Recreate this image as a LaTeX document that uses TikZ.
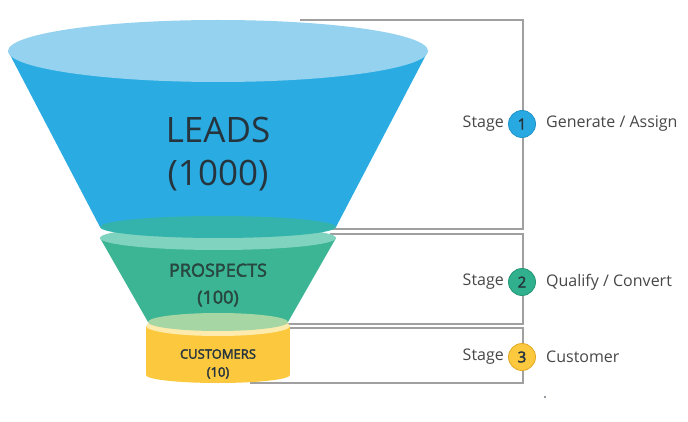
\documentclass[tikz,border=0pt]{standalone}
\usepackage{fontspec}
\setmainfont{Open Sans}
\newfontfamily\semib[FakeBold=2.5]{Open Sans}
\definecolor{blueA}{HTML}{2AACE3}
\definecolor{blueTop}{HTML}{94D2EF}
\definecolor{tealA}{HTML}{34B2AC}
\definecolor{mintA}{HTML}{80D3BE}
\definecolor{greenA}{HTML}{3BB593}
\definecolor{greenBot}{HTML}{A6D6A4}
\definecolor{paleY}{HTML}{FDEBAE}
\definecolor{yelA}{HTML}{FBC83E}
\definecolor{txtA}{HTML}{26343E}
\definecolor{txtG}{HTML}{284740}
\definecolor{lineA}{HTML}{A0A0A0}
\definecolor{labelA}{HTML}{474747}
\definecolor{c1}{HTML}{29A9E1}
\definecolor{c1b}{HTML}{1E92C6}
\definecolor{c2}{HTML}{31B08E}
\definecolor{c2b}{HTML}{259574}
\definecolor{c3}{HTML}{FBC83E}
\definecolor{c3b}{HTML}{E2A826}
\begin{document}
\begin{tikzpicture}[x=1pt,y=-1pt,
  bracket/.style={draw=lineA,line width=1.3pt},
  stagetxt/.style={anchor=east,text=labelA,font=\fontsize{16}{19}\selectfont,inner sep=0pt},
  desctxt/.style={anchor=west,text=labelA,font=\fontsize{16}{19}\selectfont,inner sep=0pt},
  badge/.style={circle,minimum size=27pt,inner sep=0pt,line width=0.8pt,text=txtA,font=\semib\fontsize{15}{18}\selectfont}]
\useasboundingbox (0,0) rectangle (688,422);
\fill[white] (0,0) rectangle (688,422);
% bracket lines
\coordinate (b1s) at (300,20);
\coordinate (b1a) at (523,20);
\coordinate (b1b) at (523,229);
\coordinate (b1e) at (330,229);
\coordinate (b2s) at (330,234);
\coordinate (b2a) at (523,234);
\coordinate (b2b) at (523,324);
\coordinate (b2e) at (280,324);
\coordinate (b3s) at (280,328);
\coordinate (b3a) at (523,328);
\coordinate (b3b) at (523,383);
\coordinate (b3e) at (250,383);
\draw[bracket] (b1s) -- (b1a) -- (b1b) -- (b1e);
\draw[bracket] (b2s) -- (b2a) -- (b2b) -- (b2e);
\draw[bracket] (b3s) -- (b3a) -- (b3b) -- (b3e);
% yellow cylinder
\fill[yelA] (146,326) rectangle (290,375);
\fill[yelA] (218,375) ellipse[x radius=72,y radius=8];
\fill[paleY] (218,326) ellipse[x radius=72,y radius=10];
% green frustum
\fill[greenA] (100,238) -- (148,322) -- (288,322) -- (336,238) -- cycle;
\fill[greenBot] (218,322) ellipse[x radius=70,y radius=9];
\fill[mintA] (218,238) ellipse[x radius=118,y radius=12];
% blue frustum
\fill[blueA] (8,51) -- (100,227) -- (336,227) -- (428,51) -- cycle;
\fill[tealA] (218,227) ellipse[x radius=118,y radius=11];
\fill[blueTop] (218,51) ellipse[x radius=210,y radius=31];
% funnel texts
\node[align=center,text=txtA,font=\fontsize{35}{43}\selectfont] (leads) at (218,154) {LEADS\\(1000)};
\node[align=center,text=txtG,font=\semib\fontsize{18}{27}\selectfont] (prospects) at (218,285) {PROSPECTS\\(100)};
\node[align=center,text=txtA,font=\semib\fontsize{13}{18}\selectfont] (customers) at (218,364) {CUSTOMERS\\(10)};
% stage badges
\node[badge,fill=c1,draw=c1b] (s1) at (522,124) {1};
\node[badge,fill=c2,draw=c2b] (s2) at (522,282) {2};
\node[badge,fill=c3,draw=c3b] (s3) at (522,357) {3};
\node[stagetxt] (st1) at (504,124) {Stage};
\node[stagetxt] (st2) at (504,282) {Stage};
\node[stagetxt] (st3) at (504,357) {Stage};
\node[desctxt] (d1) at (546,124) {Generate / Assign};
\node[desctxt] (d2) at (546,282) {Qualify / Convert};
\node[desctxt] (d3) at (546,357) {Customer};
\fill[txtA] (545,397) circle (0.8);
\end{tikzpicture}
\end{document}
